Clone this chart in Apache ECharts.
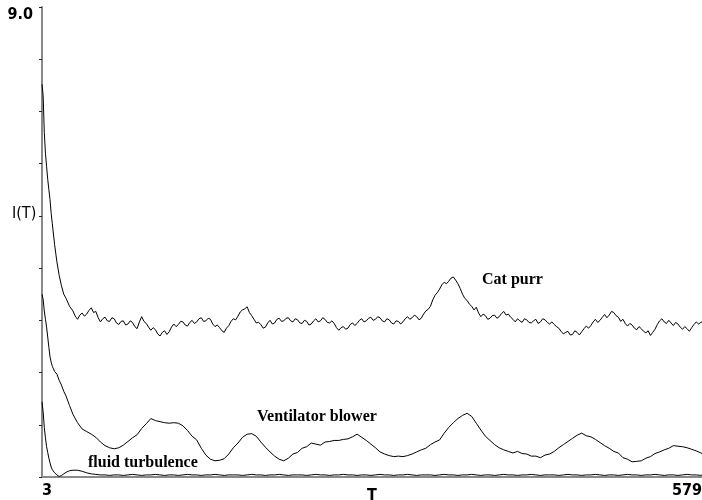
<!DOCTYPE html>
<html>
<head>
<meta charset="utf-8">
<script src="https://cdn.jsdelivr.net/npm/echarts@6/dist/echarts.min.js"></script>
<style>
html,body{margin:0;padding:0;background:#fff;}
#chart{width:702px;height:500px;}
</style>
</head>
<body>
<div id="chart"></div>
<script>
// T grid for the two smooth series
var tValues = [3,4,5,6,7,8,9,10,11,12,14,16,18,20,22,24,27,30,
  34,38,42,46,50,54,58,62,66,70,
  74,78,82,86,90,94,98,102,106,110,
  114,118,122,126,130,134,138,142,146,150,
  154,158,162,166,170,174,178,182,186,190,
  194,198,202,206,210,214,218,222,226,230,
  234,238,242,246,250,254,258,262,266,270,
  274,278,282,286,290,294,298,302,306,310,
  314,318,322,326,330,334,338,342,346,350,
  354,358,362,366,370,374,378,382,386,390,
  394,398,402,406,410,414,418,422,426,430,
  434,438,442,446,450,454,458,462,466,470,
  474,478,482,486,490,494,498,502,506,510,
  514,518,522,526,530,534,538,542,546,550,
  554,558,562,566,570,574,578,579];

// finer T grid for the noisy cat purr trace
var catT = [3,4,5,6,7,8,9,10,11,12,14,16,18,20,22,24,27,30,32,
  34,36,38,40,42,44,46,48,50,52,54,56,58,60,62,64,66,68,70,72,
  74,76,78,80,82,84,86,88,90,92,94,96,98,100,102,104,106,108,110,112,
  114,116,118,120,122,124,126,128,130,132,134,136,138,140,142,144,146,148,150,152,
  154,156,158,160,162,164,166,168,170,172,174,176,178,180,182,184,186,188,190,192,
  194,196,198,200,202,204,206,208,210,212,214,216,218,220,222,224,226,228,230,232,
  234,236,238,240,242,244,246,248,250,252,254,256,258,260,262,264,266,268,270,272,
  274,276,278,280,282,284,286,288,290,292,294,296,298,300,302,304,306,308,310,312,
  314,316,318,320,322,324,326,328,330,332,334,336,338,340,342,344,346,348,350,352,
  354,356,358,360,362,364,366,368,370,372,374,376,378,380,382,384,386,388,390,392,
  394,396,398,400,402,404,406,408,410,412,414,416,418,420,422,424,426,428,430,432,
  434,436,438,440,442,444,446,448,450,452,454,456,458,460,462,464,466,468,470,472,
  474,476,478,480,482,484,486,488,490,492,494,496,498,500,502,504,506,508,510,512,
  514,516,518,520,522,524,526,528,530,532,534,536,538,540,542,544,546,548,550,552,
  554,556,558,560,562,564,566,568,570,572,574,576,578,579];

var catPurr = [7.52,7.30,6.60,6.20,5.95,5.70,5.50,5.31,5.05,4.85,4.45,4.12,3.86,3.66,3.50,3.42,3.27,3.18,3.08,
  3.02,3.10,3.14,3.08,3.12,3.19,3.24,3.15,3.17,3.05,2.97,3.03,3.06,2.99,2.98,3.05,3.03,2.95,2.92,2.98,
  2.99,2.91,2.93,2.99,2.96,2.88,2.84,2.97,3.07,2.98,2.94,2.87,2.81,2.86,2.82,2.74,2.70,2.77,2.80,2.73,
  2.78,2.87,2.93,2.88,2.92,2.98,2.97,2.91,2.89,2.96,3.00,2.94,2.97,3.03,3.05,2.98,2.99,3.04,3.02,2.93,
  2.88,2.91,2.86,2.80,2.77,2.85,2.90,2.98,3.03,3.01,3.08,3.16,3.20,3.22,3.26,3.15,3.09,3.02,2.95,2.96,
  2.92,2.85,2.87,2.95,3.00,2.93,2.95,3.02,3.04,2.98,2.99,3.04,3.05,2.99,2.97,3.03,3.01,2.95,2.94,3.00,
  2.98,2.91,2.93,2.99,3.03,2.97,2.99,3.05,3.02,2.96,2.95,2.99,2.94,2.86,2.81,2.86,2.88,2.83,2.85,2.92,
  2.95,2.90,2.94,3.00,3.03,2.97,2.99,3.04,3.06,3.00,3.02,3.07,3.05,2.99,2.97,3.03,3.01,2.95,2.93,2.99,
  2.98,2.93,2.97,3.03,3.07,3.02,3.05,3.10,3.07,3.01,3.04,3.12,3.18,3.21,3.27,3.39,3.48,3.53,3.60,3.68,
  3.73,3.70,3.75,3.81,3.83,3.77,3.70,3.61,3.50,3.42,3.38,3.31,3.27,3.20,3.25,3.14,3.07,3.12,3.09,3.02,
  3.04,3.09,3.10,3.04,3.07,3.13,3.17,3.10,3.12,3.06,3.02,2.97,3.03,2.99,2.96,3.03,3.01,2.96,2.95,2.99,
  3.02,2.94,2.97,3.03,3.01,2.96,2.93,2.97,2.92,2.88,2.85,2.79,2.74,2.77,2.79,2.72,2.73,2.80,2.77,2.72,
  2.78,2.84,2.89,2.85,2.90,2.97,3.02,2.96,3.00,3.06,3.11,3.05,3.10,3.17,3.15,3.09,3.06,2.98,3.02,2.94,
  2.89,2.94,2.91,2.85,2.82,2.88,2.84,2.79,2.76,2.80,2.71,2.77,2.83,2.92,2.99,3.03,2.97,2.94,3.00,2.95,
  2.90,2.96,2.93,2.87,2.83,2.88,2.84,2.79,2.86,2.92,2.97,2.93,2.96,2.97];

var ventilatorBlower = [3.50,3.40,3.18,3.02,2.87,2.68,2.48,2.30,2.20,2.12,2.02,1.97,1.85,1.76,1.64,1.55,1.37,1.20,
  1.04,0.92,0.87,0.82,0.76,0.67,0.60,0.56,0.54,0.56,
  0.61,0.68,0.75,0.81,0.93,1.02,1.12,1.08,1.06,1.04,
  1.03,1.04,1.03,0.98,0.89,0.78,0.71,0.55,0.42,0.34,
  0.31,0.32,0.35,0.44,0.56,0.65,0.76,0.82,0.83,0.78,
  0.67,0.57,0.48,0.40,0.34,0.31,0.36,0.44,0.47,0.55,
  0.58,0.65,0.63,0.61,0.67,0.68,0.70,0.70,0.72,0.73,
  0.77,0.82,0.76,0.70,0.63,0.56,0.48,0.44,0.41,0.39,
  0.40,0.39,0.41,0.44,0.48,0.52,0.55,0.62,0.67,0.71,
  0.84,0.95,1.04,1.12,1.18,1.22,1.16,1.03,0.90,0.78,
  0.70,0.62,0.56,0.52,0.49,0.46,0.49,0.45,0.44,0.40,
  0.40,0.37,0.42,0.44,0.49,0.56,0.62,0.68,0.74,0.80,
  0.84,0.79,0.77,0.72,0.66,0.60,0.55,0.49,0.46,0.37,
  0.34,0.29,0.30,0.31,0.36,0.39,0.45,0.48,0.52,0.55,
  0.60,0.59,0.58,0.56,0.53,0.50,0.46,0.45];

var fluidTurbulence = [1.44,1.25,0.95,0.75,0.58,0.47,0.36,0.27,0.19,0.14,0.08,0.04,0.01,0.03,0.06,0.09,0.12,0.13,
  0.13,0.11,0.08,0.06,0.05,0.04,0.04,0.03,0.04,0.04,
  0.03,0.04,0.05,0.04,0.03,0.04,0.04,0.05,0.04,0.03,
  0.04,0.04,0.03,0.04,0.05,0.04,0.04,0.03,0.04,0.04,
  0.05,0.04,0.03,0.04,0.04,0.04,0.03,0.04,0.05,0.04,
  0.04,0.03,0.04,0.04,0.05,0.04,0.03,0.04,0.04,0.04,
  0.03,0.04,0.05,0.04,0.04,0.03,0.04,0.04,0.05,0.04,
  0.04,0.03,0.04,0.04,0.03,0.04,0.05,0.04,0.04,0.03,
  0.04,0.04,0.05,0.04,0.03,0.04,0.04,0.04,0.03,0.04,
  0.05,0.04,0.04,0.03,0.04,0.04,0.05,0.04,0.03,0.04,
  0.04,0.03,0.04,0.05,0.04,0.04,0.03,0.04,0.04,0.05,
  0.04,0.03,0.04,0.04,0.04,0.03,0.04,0.05,0.04,0.04,
  0.03,0.04,0.04,0.05,0.04,0.03,0.04,0.04,0.03,0.04,
  0.05,0.04,0.04,0.03,0.04,0.04,0.05,0.04,0.03,0.04,
  0.04,0.03,0.04,0.05,0.04,0.04,0.03,0.04];

var seriesNames = ['Cat purr', 'Ventilator blower', 'fluid turbulence'];
var xMin = 3, xMax = 579, yMin = 0, yMax = 9;
var xTickLabels = [3, 579];

function pairs(ts, vals) {
  return ts.map(function (t, i) { return [t, vals[i]]; });
}

var narrow = "'DejaVu Sans Condensed', 'Liberation Sans', sans-serif";
var serif = "'Liberation Serif', 'DejaVu Serif', serif";

var chart = echarts.init(document.getElementById('chart'), null, {renderer: 'canvas'});
var lineStyle = {color: '#000', width: 1};
chart.setOption({
  animation: false,
  backgroundColor: '#fff',
  grid: {left: 42, right: 0, top: 7, bottom: 23, containLabel: false, outerBoundsMode: 'none'},
  xAxis: {
    type: 'value', min: xMin, max: xMax,
    name: 'T', nameLocation: 'middle', nameGap: 11, nameMoveOverlap: false,
    nameTextStyle: {fontFamily: narrow, fontWeight: 'bold', fontSize: 16, color: '#000', verticalAlign: 'top'},
    axisLine: {show: true, lineStyle: {color: '#8a8a8a', width: 2}},
    axisTick: {show: false},
    splitLine: {show: false},
    axisLabel: {
      show: true, customValues: xTickLabels,
      alignMinLabel: 'left', alignMaxLabel: 'right',
      margin: 6, color: '#000', fontFamily: narrow, fontWeight: 'bold', fontSize: 16
    }
  },
  yAxis: {
    type: 'value', min: yMin, max: yMax, interval: 1,
    axisLine: {show: true, lineStyle: {color: '#8a8a8a', width: 2}},
    axisTick: {show: true, inside: false, length: 3, lineStyle: {color: '#222', width: 1}},
    splitLine: {show: false},
    axisLabel: {
      show: true, margin: 9, color: '#000', fontFamily: narrow, fontWeight: 'bold', fontSize: 16,
      verticalAlign: 'top',
      formatter: function (v) { return v === yMax ? v.toFixed(1) : ''; }
    }
  },
  graphic: [
    {type: 'text', left: 12, top: 206, style: {text: 'I(T)', font: 'normal 16px ' + narrow, fill: '#000'}},
    {type: 'text', x: 482, y: 280, style: {text: seriesNames[0], font: 'bold 16px ' + serif, fill: '#000', verticalAlign: 'middle'}},
    {type: 'text', x: 257, y: 417, style: {text: seriesNames[1], font: 'bold 16px ' + serif, fill: '#000', verticalAlign: 'middle'}},
    {type: 'text', x: 88, y: 463, style: {text: seriesNames[2], font: 'bold 16px ' + serif, fill: '#000', verticalAlign: 'middle'}}
  ],
  series: [
    {name: seriesNames[0], type: 'line', showSymbol: false, data: pairs(catT, catPurr), lineStyle: lineStyle, z: 3},
    {name: seriesNames[1], type: 'line', showSymbol: false, data: pairs(tValues, ventilatorBlower), lineStyle: lineStyle, z: 3},
    {name: seriesNames[2], type: 'line', showSymbol: false, data: pairs(tValues, fluidTurbulence), lineStyle: lineStyle, z: 3}
  ]
});
</script>
</body>
</html>
